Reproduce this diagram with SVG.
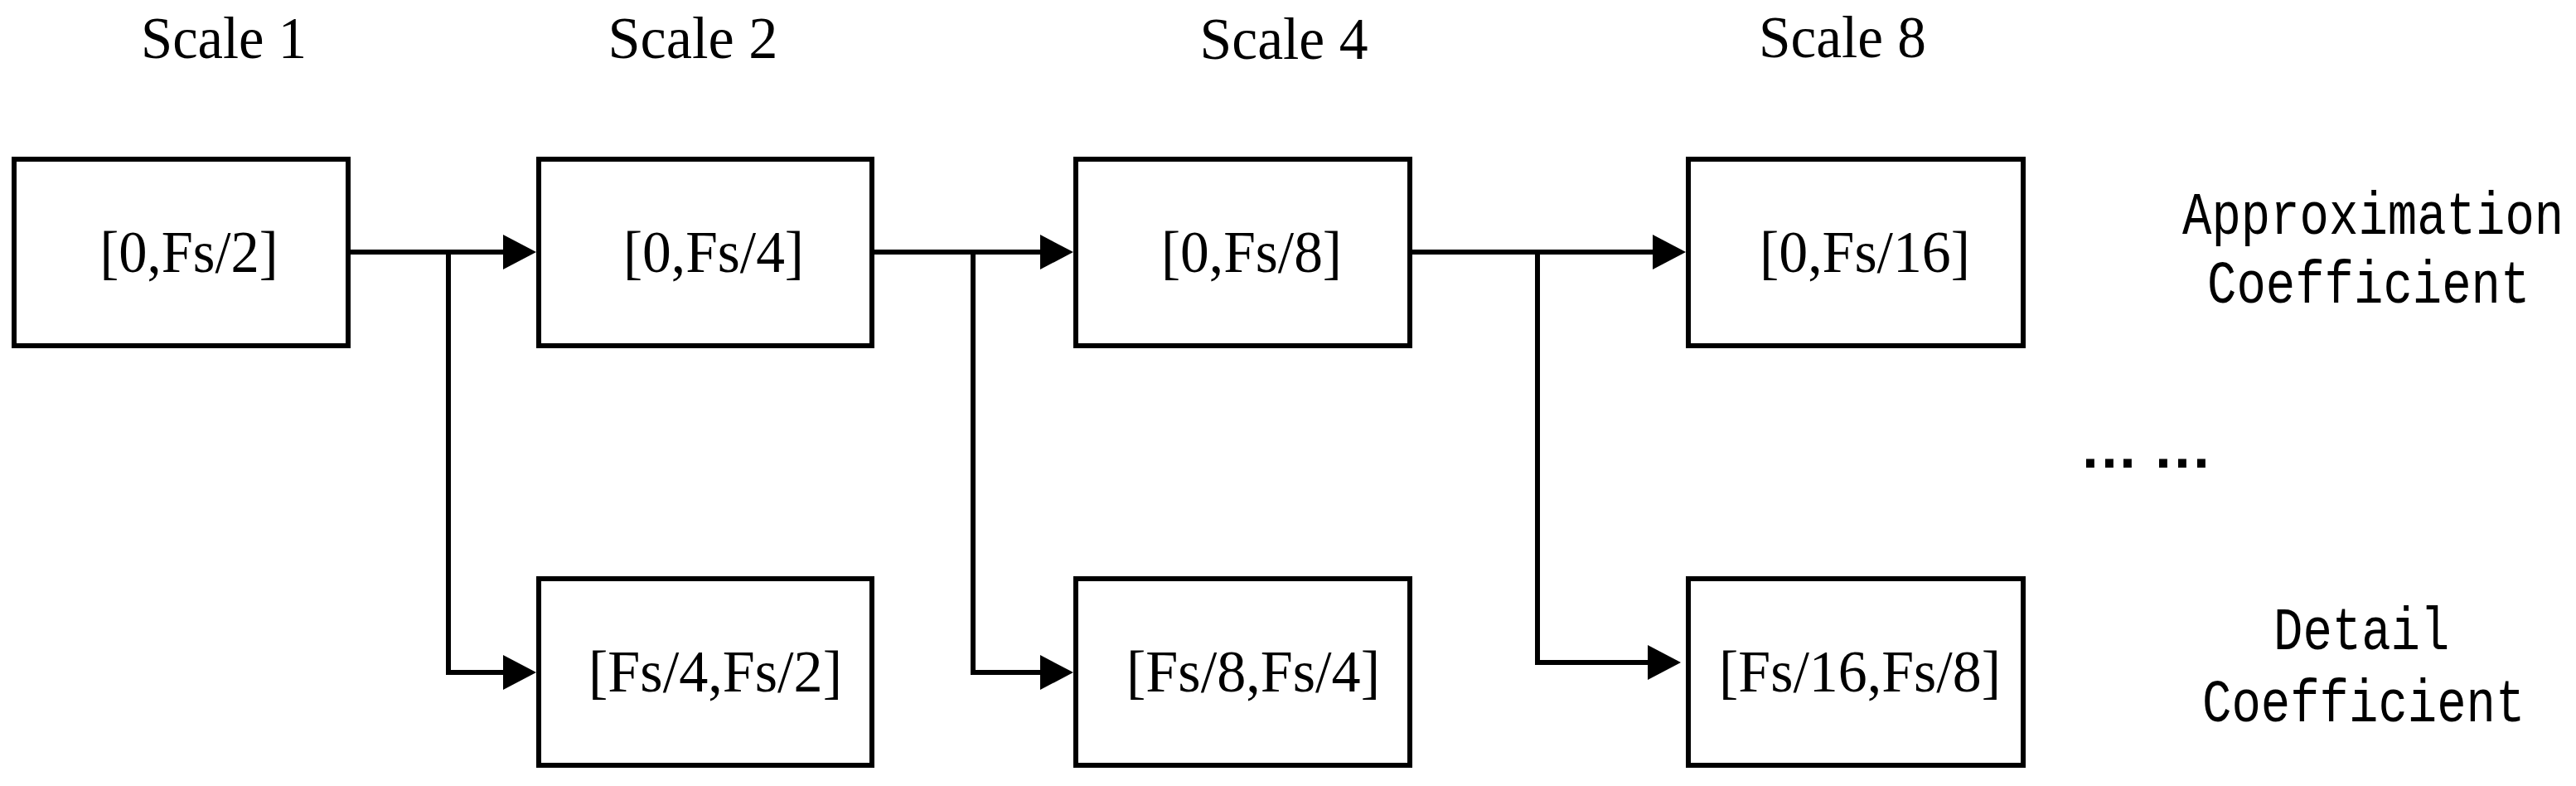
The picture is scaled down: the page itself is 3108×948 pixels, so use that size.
<svg xmlns="http://www.w3.org/2000/svg" width="3108" height="948" viewBox="0 0 3108 948">
  <style>
    .box { fill: #fff; stroke: #000; stroke-width: 6; }
    .conn { fill: none; stroke: #000; stroke-width: 6; stroke-linejoin: miter; }
    .lbl { font-family: "Liberation Serif", "Times New Roman", serif; font-size: 72px; fill: #000; text-anchor: middle; }
    .side { font-family: "Liberation Mono", "Courier New", monospace; font-size: 59px; fill: #000; }
    .dots { font-family: "Liberation Sans", Arial, sans-serif; font-weight: bold; font-size: 70px; fill: #000; text-anchor: middle; }
  </style>
  <defs>
    <marker id="arrow" markerUnits="userSpaceOnUse" markerWidth="40" markerHeight="42" viewBox="0 0 40 42" refX="2" refY="21" orient="auto">
      <path d="M0,0 L40,21 L0,42 z" fill="#000"/>
    </marker>
  </defs>
  <rect width="3108" height="948" fill="#fff"/>

  <g id="scale-labels">
    <text class="lbl" x="270" y="70" textLength="200" lengthAdjust="spacingAndGlyphs">Scale 1</text>
    <text class="lbl" x="836" y="70" textLength="205" lengthAdjust="spacingAndGlyphs">Scale 2</text>
    <text class="lbl" x="1549" y="71" textLength="203" lengthAdjust="spacingAndGlyphs">Scale 4</text>
    <text class="lbl" x="2223" y="69" textLength="202" lengthAdjust="spacingAndGlyphs">Scale 8</text>
  </g>

  <g id="connectors">
    <path class="conn" d="M420,304 H609" marker-end="url(#arrow)"/>
    <path class="conn" d="M541,304 V811 H609" marker-end="url(#arrow)"/>
    <path class="conn" d="M1052,304 H1257" marker-end="url(#arrow)"/>
    <path class="conn" d="M1174,304 V811 H1257" marker-end="url(#arrow)"/>
    <path class="conn" d="M1701,304 H1996" marker-end="url(#arrow)"/>
    <path class="conn" d="M1855,304 V799 H1990" marker-end="url(#arrow)"/>
  </g>

  <g id="node-a1">
    <rect class="box" x="17" y="192" width="403" height="225"/>
    <text class="lbl" x="228" y="328" textLength="215" lengthAdjust="spacingAndGlyphs">[0,Fs/2]</text>
  </g>
  <g id="node-a2">
    <rect class="box" x="650" y="192" width="402" height="225"/>
    <text class="lbl" x="861" y="328" textLength="218" lengthAdjust="spacingAndGlyphs">[0,Fs/4]</text>
  </g>
  <g id="node-a4">
    <rect class="box" x="1298" y="192" width="403" height="225"/>
    <text class="lbl" x="1510" y="328" textLength="218" lengthAdjust="spacingAndGlyphs">[0,Fs/8]</text>
  </g>
  <g id="node-a8">
    <rect class="box" x="2037" y="192" width="404" height="225"/>
    <text class="lbl" x="2250" y="328" textLength="254" lengthAdjust="spacingAndGlyphs">[0,Fs/16]</text>
  </g>

  <g id="node-d2">
    <rect class="box" x="650" y="698" width="402" height="225"/>
    <text class="lbl" x="863" y="834" textLength="306" lengthAdjust="spacingAndGlyphs">[Fs/4,Fs/2]</text>
  </g>
  <g id="node-d4">
    <rect class="box" x="1298" y="698" width="403" height="225"/>
    <text class="lbl" x="1512" y="834" textLength="306" lengthAdjust="spacingAndGlyphs">[Fs/8,Fs/4]</text>
  </g>
  <g id="node-d8">
    <rect class="box" x="2037" y="698" width="404" height="225"/>
    <text class="lbl" x="2244" y="834" textLength="340" lengthAdjust="spacingAndGlyphs">[Fs/16,Fs/8]</text>
  </g>

  <g id="ellipsis">
    <text class="dots" x="2522 2545 2567 2588 2610 2633 2656" y="564">... ...</text>
  </g>

  <g id="approx-label">
    <text class="side" transform="translate(2633,282) scale(1,1.22)" x="0" y="0">Approximation</text>
    <text class="side" transform="translate(2663,365) scale(1,1.22)" x="0" y="0">Coefficient</text>
  </g>
  <g id="detail-label">
    <text class="side" transform="translate(2743,783) scale(1,1.22)" x="0" y="0">Detail</text>
    <text class="side" transform="translate(2657,870) scale(1,1.22)" x="0" y="0">Coefficient</text>
  </g>
</svg>
